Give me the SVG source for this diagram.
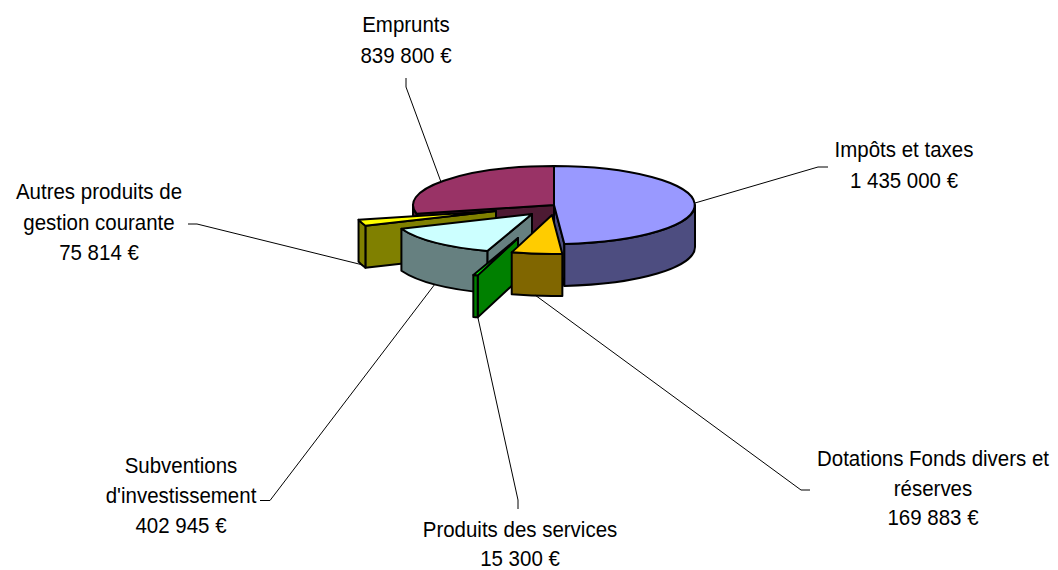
<svg xmlns="http://www.w3.org/2000/svg" width="1058" height="570" viewBox="0 0 1058 570">
<style>
.f{stroke:#000;stroke-width:2;stroke-linejoin:round}
.lbl{font-family:"Liberation Sans",Arial,sans-serif;font-size:22.5px;fill:#000;text-anchor:middle}
.ld{fill:none;stroke:#000;stroke-width:1}
</style>
<rect width="1058" height="570" fill="#fff"/>
<g id="slice-emprunts">
<path class="f" fill="#4d1a33" d="M554,205 L416.55,213.69 L416.55,255.69 L554,247 Z"/>
<path class="f" fill="#4d1a33" d="M416.55,213.69 A141,39 0 0 1 413,205 L413,247 A141,39 0 0 0 416.55,255.69 Z"/>
<path class="f" fill="#993366" d="M554,205 L416.55,213.69 A141,39 0 0 1 554,166 Z"/>
<g transform="translate(406 0) scale(0.91 1)">
<text class="lbl" x="0" y="32">Emprunts</text>
<text class="lbl" x="0" y="62.7">839 800 €</text>
</g>
</g>
<g id="slice-impots">
<path class="f" fill="#4d4d80" d="M554,205 L564.35,243.89 L564.35,285.89 L554,247 Z"/>
<path class="f" fill="#4d4d80" d="M695,205 A141,39 0 0 1 564.35,243.89 L564.35,285.89 A141,39 0 0 0 695,247 Z"/>
<path class="f" fill="#9999ff" d="M554,205 L554,166 A141,39 0 0 1 564.35,243.89 Z"/>
<g transform="translate(904 0) scale(0.91 1)">
<text class="lbl" x="0" y="157">Impôts et taxes</text>
<text class="lbl" x="0" y="188">1 435 000 €</text>
</g>
</g>
<g id="slice-autres">
<path class="f" fill="#808000" d="M496,211 L365.41,225.71 L365.41,267.71 L496,253 Z"/>
<path class="f" fill="#808000" d="M365.41,225.71 A141,39 0 0 1 358.55,219.69 L358.55,261.69 A141,39 0 0 0 365.41,267.71 Z"/>
<path class="f" fill="#ffff00" d="M496,211 L365.41,225.71 A141,39 0 0 1 358.55,219.69 Z"/>
<g transform="translate(99 0) scale(0.91 1)">
<text class="lbl" x="0" y="199">Autres produits de</text>
<text class="lbl" x="0" y="230">gestion courante</text>
<text class="lbl" x="0" y="260">75 814 €</text>
</g>
</g>
<g id="slice-subventions">
<path class="f" fill="#668080" d="M532,214 L487.33,250.99 L487.33,292.99 L532,256 Z"/>
<path class="f" fill="#668080" d="M487.33,250.99 A141,39 0 0 1 401.41,228.71 L401.41,270.71 A141,39 0 0 0 487.33,292.99 Z"/>
<path class="f" fill="#ccffff" d="M532,214 L487.33,250.99 A141,39 0 0 1 401.41,228.71 Z"/>
<g transform="translate(181 0) scale(0.91 1)">
<text class="lbl" x="0" y="473.5">Subventions</text>
<text class="lbl" x="0" y="503.5">d'investissement</text>
<text class="lbl" x="0" y="533">402 945 €</text>
</g>
</g>
<g id="slice-produits">
<path class="f" fill="#008000" d="M518,238 L477.72,275.37 L477.72,317.37 L518,280 Z"/>
<path class="f" fill="#008000" d="M477.72,275.37 A141,39 0 0 1 473.33,274.99 L473.33,316.99 A141,39 0 0 0 477.72,317.37 Z"/>
<path class="f" fill="#00ff00" d="M518,238 L477.72,275.37 A141,39 0 0 1 473.33,274.99 Z"/>
<g transform="translate(520 0) scale(0.91 1)">
<text class="lbl" x="0" y="537">Produits des services</text>
<text class="lbl" x="0" y="566">15 300 €</text>
</g>
</g>
<g id="slice-dotations">
<path class="f" fill="#806600" d="M562.35,253.89 A141,39 0 0 1 511.72,252.37 L511.72,294.37 A141,39 0 0 0 562.35,295.89 Z"/>
<path class="f" fill="#ffcc00" d="M552,215 L562.35,253.89 A141,39 0 0 1 511.72,252.37 Z"/>
<g transform="translate(933 0) scale(0.91 1)">
<text class="lbl" x="0" y="466">Dotations Fonds divers et</text>
<text class="lbl" x="0" y="496">réserves</text>
<text class="lbl" x="0" y="525">169 883 €</text>
</g>
</g>
<g id="connectors">
<polyline class="ld" points="406,78 406,87 441,182"/>
<polyline class="ld" points="828,167 818,167 695,203"/>
<polyline class="ld" points="188,224 197,224 363,265"/>
<polyline class="ld" points="260,500.5 270,500.5 435,284"/>
<polyline class="ld" points="518,509 518,500 478,318"/>
<polyline class="ld" points="810,490 801,490 535,295"/>
</g>
</svg>
